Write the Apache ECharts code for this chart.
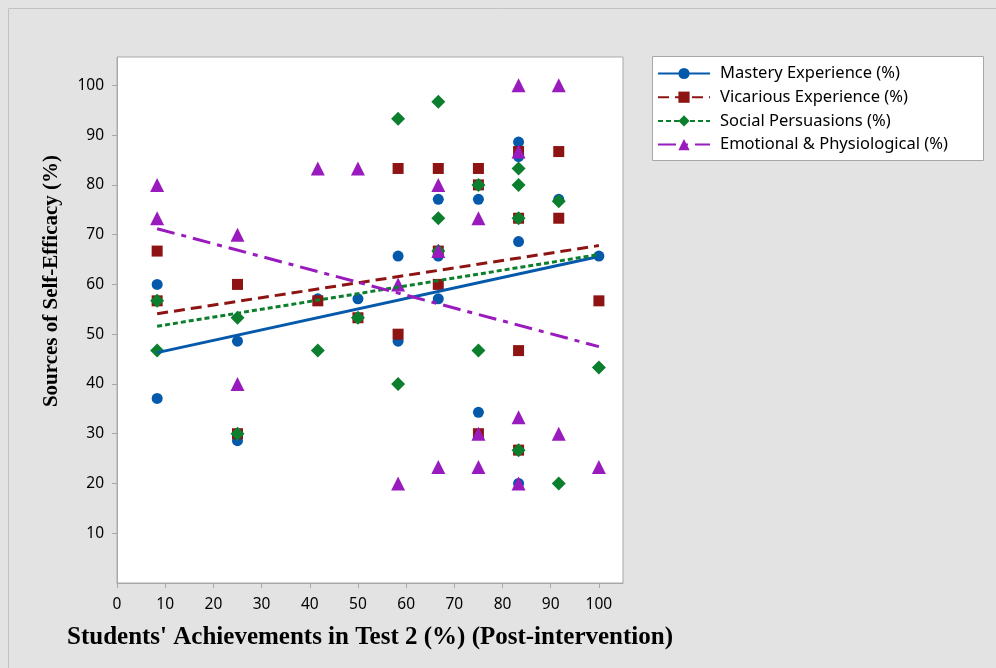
<!DOCTYPE html>
<html>
<head>
<meta charset="utf-8">
<script src="https://cdn.jsdelivr.net/npm/echarts@6/dist/echarts.min.js"></script>
<style>
  html, body { margin: 0; padding: 0; background: #e3e3e3; }
  #chart { width: 996px; height: 668px; }
</style>
</head>
<body>
<div id="chart"></div>
<script>
// Test 2 scores (%), one column of students per score
const masteryX   = [8.33, 8.33, 25, 25, 41.67, 50, 58.33, 58.33, 66.67, 66.67, 66.67, 75, 75, 75, 83.33, 83.33, 83.33, 83.33, 91.67, 100];
const masteryY   = [60, 37.1, 48.6, 28.6, 57.1, 57.1, 65.7, 48.6, 77.1, 65.7, 57.1, 80, 77.1, 34.3, 88.6, 85.7, 68.6, 20, 77.1, 65.7];

const vicariousX = [8.33, 8.33, 25, 25, 41.67, 50, 58.33, 58.33, 66.67, 66.67, 66.67, 75, 75, 75, 83.33, 83.33, 83.33, 83.33, 91.67, 91.67, 100];
const vicariousY = [66.7, 56.7, 60, 30, 56.7, 53.3, 83.3, 50, 83.3, 66.7, 60, 83.3, 80, 30, 86.7, 73.3, 46.7, 26.7, 86.7, 73.3, 56.7];

const socialX    = [8.33, 8.33, 25, 25, 41.67, 50, 58.33, 58.33, 66.67, 66.67, 66.67, 75, 75, 83.33, 83.33, 83.33, 83.33, 91.67, 91.67, 100];
const socialY    = [56.7, 46.7, 53.3, 30, 46.7, 53.3, 93.3, 40, 96.7, 73.3, 66.7, 80, 46.7, 83.3, 80, 73.3, 26.7, 76.7, 20, 43.3];

const emotionalX = [8.33, 8.33, 25, 25, 41.67, 50, 58.33, 58.33, 66.67, 66.67, 66.67, 75, 75, 75, 83.33, 83.33, 83.33, 83.33, 91.67, 91.67, 100];
const emotionalY = [80, 73.3, 70, 40, 83.3, 83.3, 60, 20, 80, 66.7, 23.3, 73.3, 30, 23.3, 100, 86.7, 33.3, 20, 100, 30, 23.3];

// fitted regression lines: values at the lowest and highest score
const fitX         = [8.33, 100];
const masteryFit   = [46.3, 65.6];
const vicariousFit = [54.1, 67.8];
const socialFit    = [51.6, 66.0];
const emotionalFit = [71.2, 47.5];

const seriesNames = [
  'Mastery Experience (%)',
  'Vicarious Experience (%)',
  'Social Persuasions (%)',
  'Emotional & Physiological (%)'
];
const xTicks = [0, 10, 20, 30, 40, 50, 60, 70, 80, 90, 100];
const yTicks = [10, 20, 30, 40, 50, 60, 70, 80, 90, 100];

const pairs = (xs, ys) => xs.map((x, i) => [x, ys[i]]);

const styles = [
  { color: '#0559ab', symbol: 'circle',   size: 11, dash: 'solid' },
  { color: '#8e1414', symbol: 'rect',     size: 11, dash: [11, 6] },
  { color: '#0b7f2d', symbol: 'diamond',  size: 14, dash: [5, 3] },
  { color: '#991bbe', symbol: 'triangle', size: 14, dash: [18, 7, 5, 7] }
];
const points = [pairs(masteryX, masteryY), pairs(vicariousX, vicariousY), pairs(socialX, socialY), pairs(emotionalX, emotionalY)];
const fits = [masteryFit, vicariousFit, socialFit, emotionalFit];

const series = [];
// fitted lines first so the legend shows line + marker
styles.forEach((s, i) => {
  series.push({
    name: seriesNames[i],
    type: 'line',
    data: pairs(fitX, fits[i]),
    symbol: s.symbol,
    symbolSize: s.size,
    showSymbol: false,
    silent: true,
    z: 3,
    lineStyle: { color: s.color, width: 3, type: s.dash },
    itemStyle: { color: s.color }
  });
});
styles.forEach((s, i) => {
  series.push({
    name: seriesNames[i],
    type: 'scatter',
    data: points[i],
    symbol: s.symbol,
    symbolSize: s.size,
    z: 2 + i * 0.01,
    itemStyle: { color: s.color, opacity: 1 }
  });
});

const chart = echarts.init(document.getElementById('chart'), null, { renderer: 'canvas' });
chart.setOption({
  backgroundColor: '#e3e3e3',
  animation: false,
  graphic: [
    { type: 'rect', z: -10, shape: { x: 8.5, y: 8.5, width: 1000, height: 700 },
      style: { fill: 'none', stroke: '#c2c2c2', lineWidth: 1 } },
    { type: 'rect', z: 0, shape: { x: 652.5, y: 56.5, width: 331, height: 104 },
      style: { fill: '#ffffff', stroke: '#a8a8a8', lineWidth: 1 } },
    { type: 'text', z: 5, x: 52, y: 281, rotation: Math.PI / 2,
      style: {
        text: 'Sources of Self-Efficacy (%)',
        fontFamily: 'Liberation Serif', fontWeight: 'bold', fontSize: 21,
        fill: '#000', align: 'center', verticalAlign: 'middle'
      } }
  ],
  grid: {
    left: 117, top: 57, width: 506, height: 526,
    show: true, backgroundColor: '#ffffff', borderColor: '#a8a8a8', borderWidth: 1
  },
  legend: {
    orient: 'vertical',
    left: 652, top: 65,
    padding: [0, 0, 0, 5],
    itemWidth: 52, itemHeight: 14, itemGap: 6.7,
    data: seriesNames,
    textStyle: { fontFamily: 'Noto Sans', fontSize: 16.5, color: '#000', padding: [0, 0, 0, 5] },
    selectedMode: false,
    z: 10
  },
  xAxis: {
    type: 'value', min: 0, max: 105, interval: 10,
    name: "Students' Achievements in Test 2 (%) (Post-intervention)",
    nameLocation: 'middle', nameGap: 42,
    nameTextStyle: { fontFamily: 'Liberation Serif', fontWeight: 'bold', fontSize: 25, color: '#000' },
    axisLine: { show: true, lineStyle: { color: '#a8a8a8' } },
    axisTick: { show: true, length: 5, customValues: xTicks, lineStyle: { color: '#a8a8a8' } },
    splitLine: { show: false },
    axisLabel: {
      fontFamily: 'Noto Sans', fontSize: 15.5, color: '#000', margin: 14,
      customValues: xTicks
    }
  },
  yAxis: {
    type: 'value', min: 0, max: 105.7, interval: 10,
    axisLine: { show: true, lineStyle: { color: '#a8a8a8' } },
    axisTick: { show: true, length: 5, customValues: yTicks, lineStyle: { color: '#a8a8a8' } },
    splitLine: { show: false },
    axisLabel: {
      fontFamily: 'Noto Sans', fontSize: 15.5, color: '#000', margin: 13,
      customValues: yTicks
    }
  },
  series: series
});
</script>
</body>
</html>
